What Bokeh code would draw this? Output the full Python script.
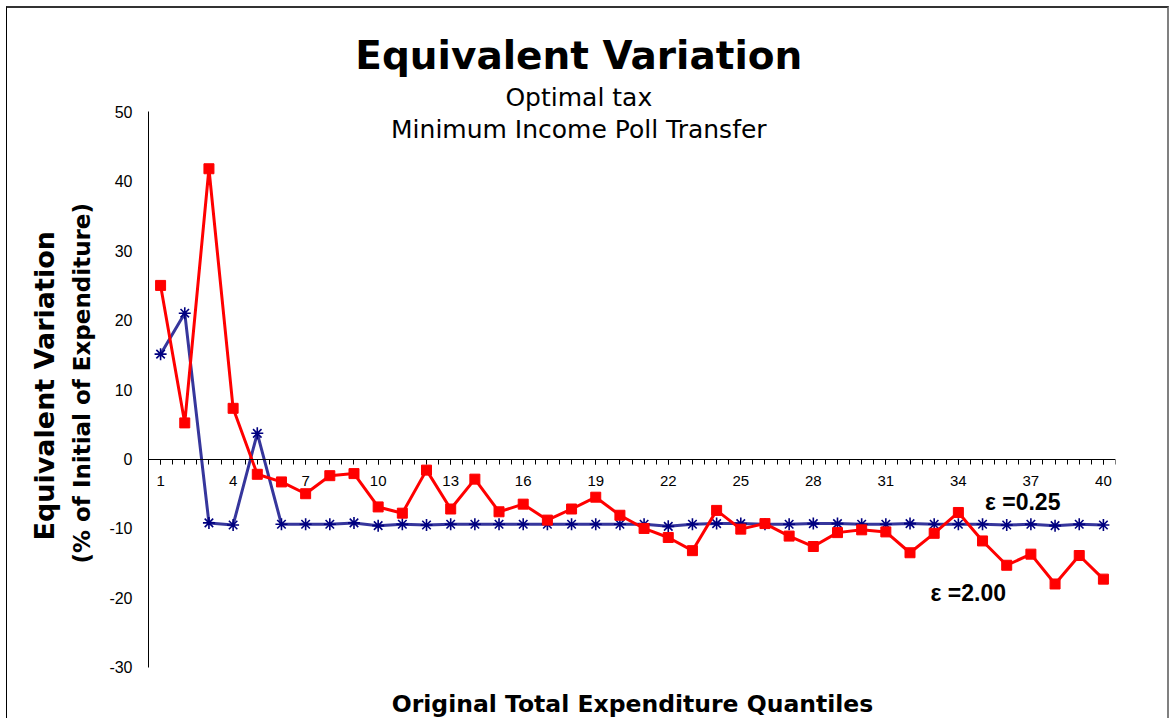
from bokeh.plotting import figure
from bokeh.models import Range1d, LinearAxis, FixedTicker, Title, Label, PrintfTickFormatter
from bokeh.embed import file_html
from bokeh.resources import INLINE

# ---- data ----
quantiles = list(range(1, 41))
ev_eps_2_00 = [25.0, 5.2, 41.8, 7.3, -2.2, -3.3, -5.0, -2.4, -2.1, -6.9,
               -7.8, -1.6, -7.2, -2.9, -7.6, -6.5, -8.8, -7.2, -5.5, -8.1,
               -10.0, -11.3, -13.2, -7.4, -10.1, -9.3, -11.1, -12.6, -10.6, -10.2,
               -10.5, -13.5, -10.7, -7.7, -11.8, -15.3, -13.7, -18.0, -13.9, -17.3]
ev_eps_0_25 = [15.1, 21.0, -9.2, -9.5, 3.7, -9.4, -9.4, -9.4, -9.2, -9.6,
               -9.4, -9.5, -9.4, -9.4, -9.4, -9.4, -9.4, -9.4, -9.4, -9.4,
               -9.4, -9.7, -9.4, -9.3, -9.3, -9.4, -9.4, -9.3, -9.3, -9.4,
               -9.4, -9.3, -9.4, -9.4, -9.4, -9.5, -9.4, -9.6, -9.4, -9.5]
y_ticks = [-30, -20, -10, 0, 10, 20, 30, 40, 50]
y_axis_bounds = (-30, 50)
x_tick_labels = [1, 4, 7, 10, 13, 16, 19, 22, 25, 28, 31, 34, 37, 40]
x_minor_ticks = [0.5 * i for i in range(1, 82)]

# frame extends above/below the axis span so the titles can sit inside it
p = figure(frame_width=967, frame_height=690,
           x_range=Range1d(0.5, 40.5), y_range=Range1d(-37.37, 62),
           output_backend="svg", toolbar_location=None,
           x_axis_location=None, y_axis_location=None,
           min_border_left=141, min_border_right=52,
           min_border_top=20, min_border_bottom=0)
p.xgrid.visible = False
p.ygrid.visible = False
p.outline_line_color = None
p.background_fill_color = "white"
p.border_fill_color = "white"
p.styles = {"margin-left": "6px", "margin-top": "6px",
            "border-top": "2px solid #333333",
            "border-left": "1px solid #000000",
            "border-right": "2px solid #808080"}

# y axis
yaxis = LinearAxis(ticker=FixedTicker(ticks=y_ticks),
                   formatter=PrintfTickFormatter(format="%d"),
                   bounds=y_axis_bounds)
yaxis.major_tick_out = 0
yaxis.major_tick_in = 0
yaxis.minor_tick_out = 0
yaxis.minor_tick_in = 0
yaxis.major_label_standoff = 16
yaxis.major_label_text_font = "Liberation Sans"
yaxis.major_label_text_font_size = "16px"
yaxis.major_label_text_color = "black"
yaxis.axis_line_color = "black"
p.add_layout(yaxis, "left")

# x axis drawn at y = 0
xaxis = LinearAxis(fixed_location=0,
                   ticker=FixedTicker(ticks=x_tick_labels, minor_ticks=x_minor_ticks))
xaxis.major_tick_out = 5
xaxis.major_tick_in = 0
xaxis.minor_tick_out = 5
xaxis.minor_tick_in = 0
xaxis.major_tick_line_color = "black"
xaxis.minor_tick_line_color = "black"
xaxis.major_label_standoff = 12
xaxis.major_label_text_font = "Liberation Sans"
xaxis.major_label_text_font_size = "15px"
xaxis.major_label_text_color = "black"
xaxis.axis_line_color = "black"
p.add_layout(xaxis, "below")

# chart titles
title_x = 18.3
p.add_layout(Label(x=title_x, y=58.15, text="Equivalent Variation",
                   text_font="DejaVu Sans", text_font_size="39px",
                   text_font_style="bold", text_color="black",
                   text_align="center", text_baseline="alphabetic"))
p.add_layout(Label(x=title_x, y=52.1, text="Optimal tax",
                   text_font="DejaVu Sans", text_font_size="25px",
                   text_color="black",
                   text_align="center", text_baseline="alphabetic"))
p.add_layout(Label(x=title_x, y=47.45, text="Minimum Income Poll Transfer",
                   text_font="DejaVu Sans", text_font_size="25px",
                   text_color="black",
                   text_align="center", text_baseline="alphabetic"))

# x axis title
p.add_layout(Label(x=20.52, y=-35.3, text="Original Total Expenditure Quantiles",
                   text_font="DejaVu Sans", text_font_size="23.5px",
                   text_font_style="bold", text_color="black",
                   text_align="center", text_baseline="middle"))

# y axis title (two lines); align="left" anchors at the panel bottom, offset lifts it
p.add_layout(Title(text="(% of Initial of Expenditure)", align="left",
                   text_font="DejaVu Sans", text_font_size="23px",
                   text_font_style="bold", text_color="black",
                   standoff=24, offset=155), "left")
p.add_layout(Title(text="Equivalent Variation", align="left",
                   text_font="DejaVu Sans", text_font_size="27px",
                   text_font_style="bold", text_color="black",
                   standoff=-10, offset=178), "left")

# series
p.line(quantiles, ev_eps_0_25, line_color="#36369c", line_width=3)
p.scatter(quantiles, ev_eps_0_25, marker="asterisk", size=12,
          line_color="#000080", line_width=1.6)
p.line(quantiles, ev_eps_2_00, line_color="#ff0000", line_width=3)
p.scatter(quantiles, ev_eps_2_00, marker="square", size=10,
          fill_color="#ff0000", line_color="#ff0000")

p.add_layout(Label(x=35.1, y=-6.2, text="ε =0.25", text_font="Liberation Sans",
                   text_font_size="23px", text_font_style="bold", text_color="black",
                   text_baseline="middle", text_align="left"))
p.add_layout(Label(x=32.85, y=-19.3, text="ε =2.00", text_font="Liberation Sans",
                   text_font_size="23px", text_font_style="bold", text_color="black",
                   text_baseline="middle", text_align="left"))

open("out.html", "w").write(file_html(p, INLINE))
